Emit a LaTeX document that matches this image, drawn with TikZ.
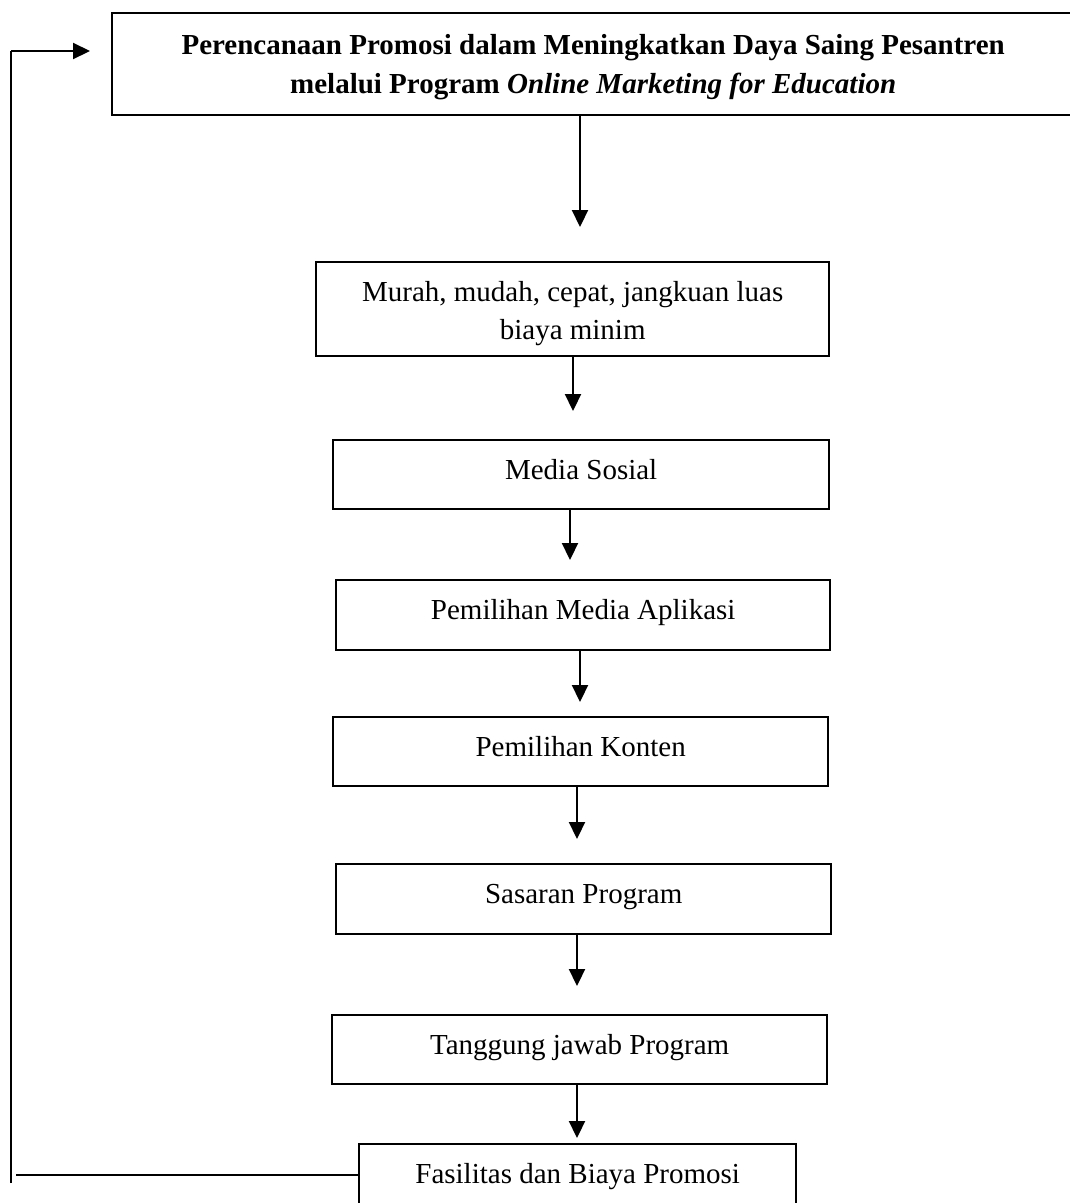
\documentclass[tikz,border=0pt]{standalone}
\usepackage{fontspec}
\setmainfont{Liberation Serif}
\usetikzlibrary{arrows.meta}

% box content: width, height, first-baseline offset, text
\newcommand{\flowtext}[4]{\parbox[c][#2][t]{#1}{\centering\fontsize{29pt}{38pt}\selectfont\rule{0pt}{#3}#4}}

\tikzset{
  flowbox/.style={draw, line width=2.4pt, inner sep=0pt, anchor=north west},
  flowarrow/.style={line width=2.2pt, -{Triangle[length=17pt,width=16pt]}},
  backline/.style={line width=1.5pt},
}

\begin{document}
\begin{tikzpicture}[x=1pt, y=-1pt]
  \clip (0,0) rectangle (1070,1203);
  \fill[white] (0,0) rectangle (1070,1203);

  % process boxes
  \node[flowbox] (b1) at (111,12)
    {\flowtext{962pt}{102pt}{41pt}{\bfseries Perencanaan Promosi dalam Meningkatkan Daya Saing Pesantren\\[1pt]
     melalui Program \textit{Online Marketing for Education}}};
  \node[flowbox] (b2) at (315,261)
    {\flowtext{513pt}{94pt}{39pt}{Murah, mudah, cepat, jangkuan luas\\ biaya minim}};
  \node[flowbox] (b3) at (332,439) {\flowtext{496pt}{69pt}{39pt}{Media Sosial}};
  \node[flowbox] (b4) at (335,579) {\flowtext{494pt}{70pt}{39pt}{Pemilihan Media Aplikasi}};
  \node[flowbox] (b5) at (332,716) {\flowtext{495pt}{69pt}{39pt}{Pemilihan Konten}};
  \node[flowbox] (b6) at (335,863) {\flowtext{495pt}{70pt}{39pt}{Sasaran Program}};
  \node[flowbox] (b7) at (331,1014) {\flowtext{495pt}{69pt}{39pt}{Tanggung jawab Program}};
  \node[flowbox] (b8) at (358,1143) {\flowtext{437pt}{64pt}{39pt}{Fasilitas dan Biaya Promosi}};

  % arrow tips between boxes
  \coordinate (e1) at (580,227);
  \coordinate (e2) at (573,411);
  \coordinate (e3) at (570,560);
  \coordinate (e4) at (580,702);
  \coordinate (e5) at (577,839);
  \coordinate (e6) at (577,986);
  \coordinate (e7) at (577,1138);

  \draw[flowarrow] (b1.south -| e1) -- (e1);
  \draw[flowarrow] (b2.south -| e2) -- (e2);
  \draw[flowarrow] (b3.south -| e3) -- (e3);
  \draw[flowarrow] (b4.south -| e4) -- (e4);
  \draw[flowarrow] (b5.south -| e5) -- (e5);
  \draw[flowarrow] (b6.south -| e6) -- (e6);
  \draw[flowarrow] (b7.south -| e7) -- (e7);

  % feedback loop back to the top box
  \coordinate (f1) at (16,1175);
  \coordinate (f2) at (11,1183);
  \coordinate (f3) at (11,51);
  \coordinate (f4) at (90,51);
  \draw[backline] (b8.west |- f1) -- (f1);
  \draw[backline] (f2) -- (f3);
  \draw[flowarrow] (f3) -- (f4);
\end{tikzpicture}
\end{document}
